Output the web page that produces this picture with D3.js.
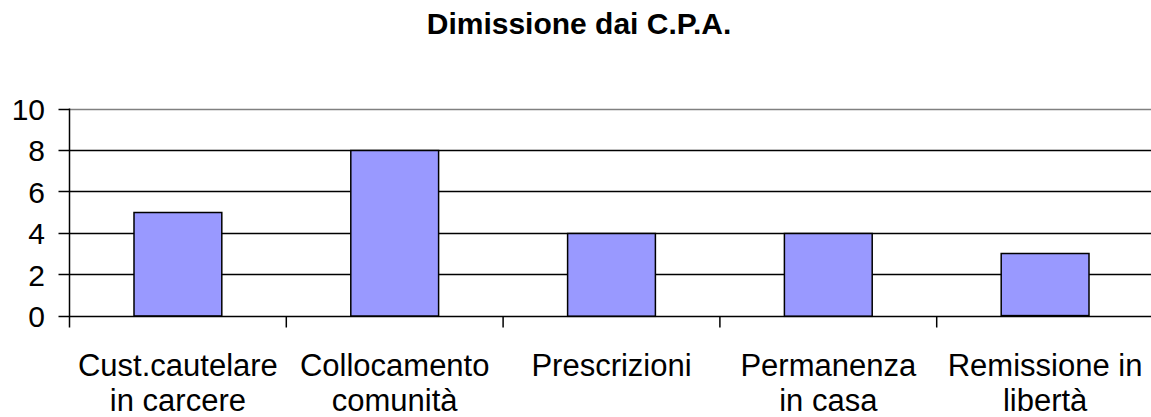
<!DOCTYPE html>
<html>
<head>
<meta charset="utf-8">
<script src="https://cdn.jsdelivr.net/npm/d3@7"></script>
<style>
  body { margin: 0; background: #fff; }
  text { font-family: "Liberation Sans", Arial, sans-serif; fill: #000; }
</style>
</head>
<body>
<div id="chart"></div>
<script>
/* data */
var title = "Dimissione dai C.P.A.";
var categories = [
  ["Cust.cautelare", "in carcere"],
  ["Collocamento", "comunità"],
  ["Prescrizioni"],
  ["Permanenza", "in casa"],
  ["Remissione in", "libertà"]
];
var values = [5, 8, 4, 4, 3];
var yTicks = [0, 2, 4, 6, 8, 10];

var width = 1151, height = 417;
var mLeft = 69.5, mRight = 1153.5, mTop = 109.5, mBottom = 316.5;

var svg = d3.select("#chart").append("svg")
  .attr("width", width).attr("height", height);

var x = d3.scaleBand()
  .domain(d3.range(categories.length))
  .range([mLeft, mRight])
  .paddingInner(0).paddingOuter(0);

var y = d3.scaleLinear().domain([0, 10]).range([mBottom, mTop]);

function snap(v) { return Math.round(v) + 0.5; }

// title
svg.append("text")
  .attr("x", 579).attr("y", 34)
  .attr("text-anchor", "middle")
  .style("font-size", "30px").style("font-weight", "bold")
  .text(title);

// gridlines
svg.append("g").selectAll("line")
  .data(yTicks.filter(function(d){ return d > 0; }))
  .enter().append("line")
  .attr("x1", mLeft).attr("x2", mRight)
  .attr("y1", function(d){ return snap(y(d)) - 1; })
  .attr("y2", function(d){ return snap(y(d)) - 1; })
  .attr("stroke", function(d){ return d == 10 ? "#808080" : "#000"; })
  .attr("stroke-width", 1.5);

// bars
var bw = x.bandwidth() * 0.405;
svg.append("g").selectAll("rect")
  .data(values)
  .enter().append("rect")
  .attr("x", function(d, i){ return x(i) + x.bandwidth() / 2 - bw / 2; })
  .attr("y", function(d){ return snap(y(d)) - 1; })
  .attr("width", bw)
  .attr("height", function(d){ return y(0) - y(d); })
  .attr("fill", "#9999ff")
  .attr("stroke", "#000")
  .attr("stroke-width", 1.5);

// y axis
var yAxis = svg.append("g");
yAxis.append("line")
  .attr("x1", mLeft).attr("x2", mLeft)
  .attr("y1", mTop - 1).attr("y2", mBottom + 11)
  .attr("stroke", "#000").attr("stroke-width", 1.5);
yAxis.selectAll("line.tick")
  .data(yTicks)
  .enter().append("line").attr("class", "tick")
  .attr("x1", mLeft - 11).attr("x2", mLeft)
  .attr("y1", function(d){ return snap(y(d)) - 1; })
  .attr("y2", function(d){ return snap(y(d)) - 1; })
  .attr("stroke", "#000").attr("stroke-width", 1.5);
yAxis.selectAll("text")
  .data(yTicks)
  .enter().append("text")
  .attr("x", 45)
  .attr("y", function(d){ return y(d); })
  .attr("dy", "0.35em")
  .attr("text-anchor", "end")
  .style("font-size", "30px")
  .text(function(d){ return d; });

// x axis
var xAxis = svg.append("g");
xAxis.append("line")
  .attr("x1", mLeft).attr("x2", mRight)
  .attr("y1", snap(y(0)) - 1).attr("y2", snap(y(0)) - 1)
  .attr("stroke", "#000").attr("stroke-width", 1.5);
xAxis.selectAll("line.tick")
  .data(d3.range(1, categories.length + 1))
  .enter().append("line").attr("class", "tick")
  .attr("x1", function(i){ return x(0) + i * x.step(); })
  .attr("x2", function(i){ return x(0) + i * x.step(); })
  .attr("y1", mBottom).attr("y2", mBottom + 11)
  .attr("stroke", "#000").attr("stroke-width", 1.5);

var labels = xAxis.selectAll("text")
  .data(categories)
  .enter().append("text")
  .attr("text-anchor", "middle")
  .style("font-size", "31px");
labels.selectAll("tspan")
  .data(function(d, i){ return d.map(function(s){ return {s: s, i: i}; }); })
  .enter().append("tspan")
  .attr("x", function(d){ return x(d.i) + x.bandwidth() / 2; })
  .attr("y", function(d, j){ return 376 + j * 35; })
  .text(function(d){ return d.s; });
</script>
</body>
</html>
